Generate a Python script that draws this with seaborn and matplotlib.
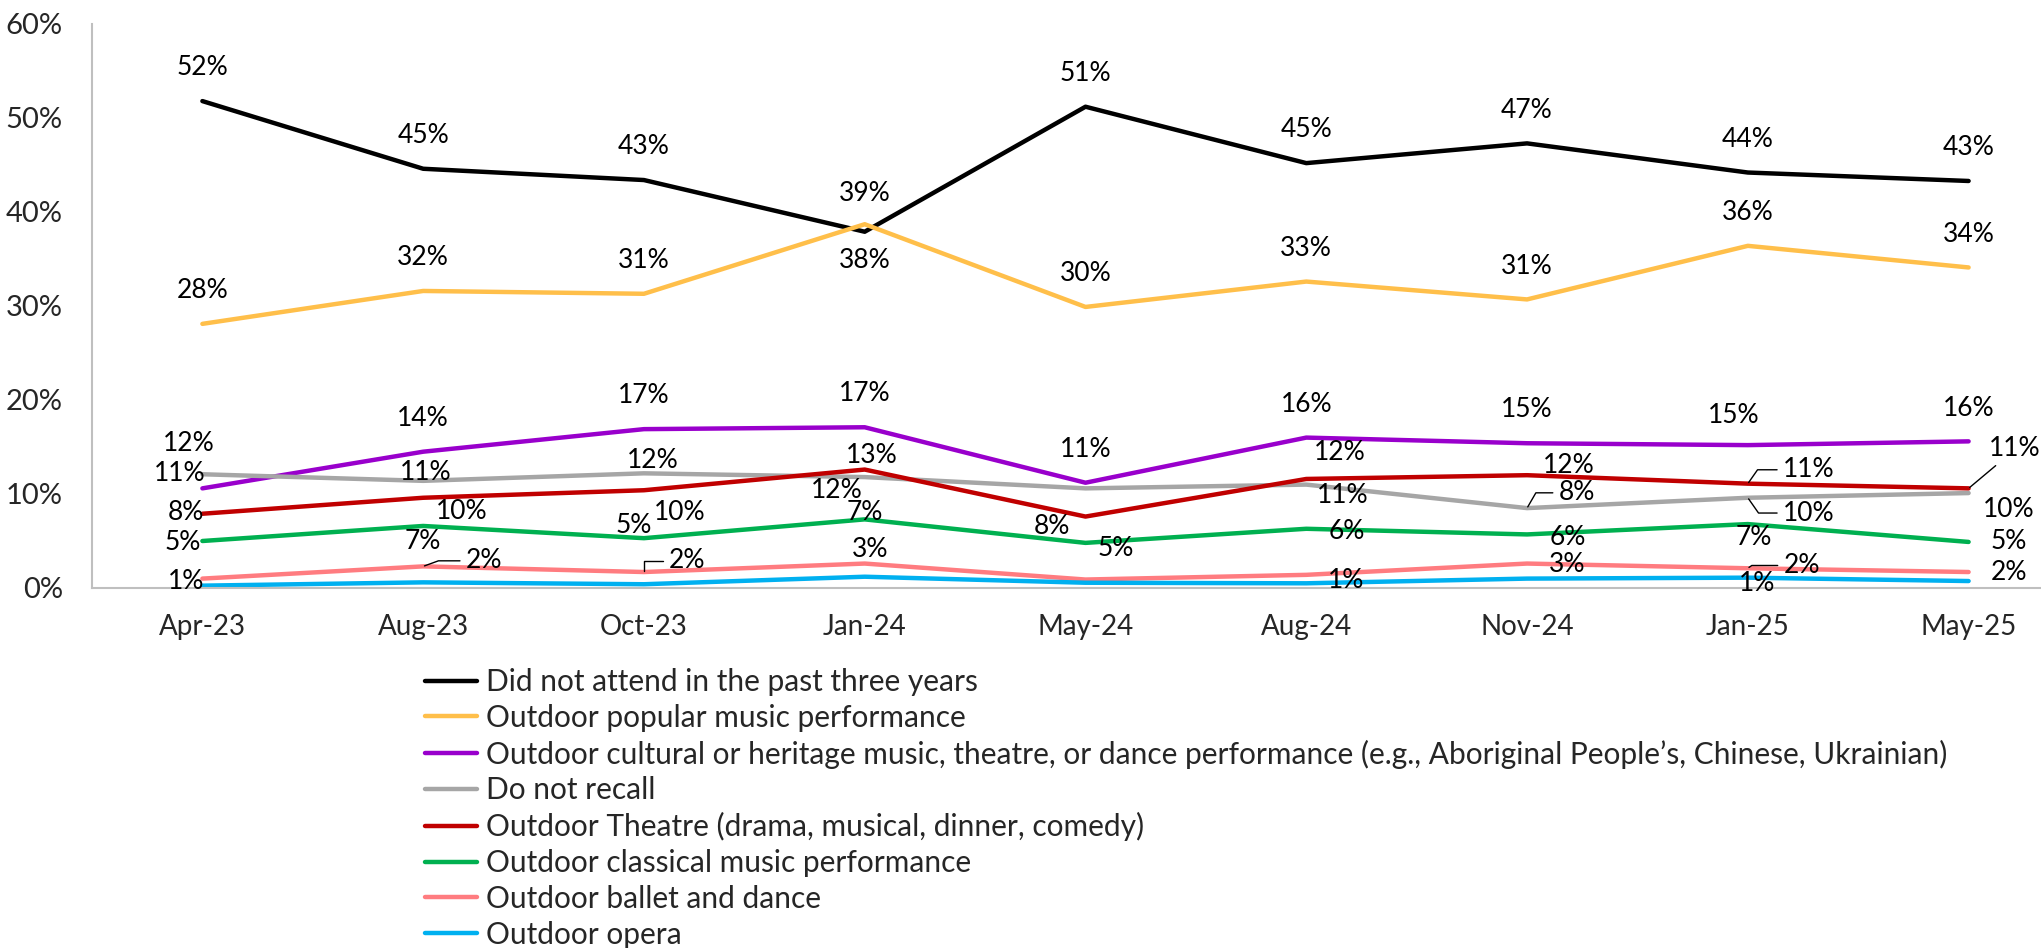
import matplotlib
matplotlib.use("Agg")
import matplotlib.pyplot as plt
import seaborn as sns
import pandas as pd

# survey waves
waves = ["Apr-23", "Aug-23", "Oct-23", "Jan-24", "May-24", "Aug-24", "Nov-24", "Jan-25", "May-25"]

# share of respondents (%) per wave
did_not_attend = [51.8, 44.6, 43.4, 37.9, 51.2, 45.2, 47.3, 44.2, 43.3]
popular_music = [28.1, 31.6, 31.3, 38.7, 29.9, 32.6, 30.7, 36.4, 34.1]
cultural_heritage = [10.6, 14.5, 16.9, 17.1, 11.2, 16.0, 15.4, 15.2, 15.6]
do_not_recall = [12.1, 11.4, 12.2, 11.8, 10.6, 11.0, 8.5, 9.6, 10.1]
theatre = [7.9, 9.6, 10.4, 12.6, 7.6, 11.6, 12.0, 11.1, 10.6]
classical_music = [5.0, 6.6, 5.3, 7.3, 4.8, 6.3, 5.7, 6.8, 4.9]
ballet_dance = [1.0, 2.3, 1.7, 2.6, 0.9, 1.4, 2.6, 2.1, 1.7]
opera = [0.25, 0.6, 0.4, 1.2, 0.56, 0.5, 1.0, 1.1, 0.74]

series_names = [
    "Did not attend in the past three years",
    "Outdoor popular music performance",
    "Outdoor cultural or heritage music, theatre, or dance performance (e.g., Aboriginal People\u2019s, Chinese, Ukrainian)",
    "Do not recall",
    "Outdoor Theatre (drama, musical, dinner, comedy)",
    "Outdoor classical music performance",
    "Outdoor ballet and dance",
    "Outdoor opera",
]
series_values = [did_not_attend, popular_music, cultural_heritage, do_not_recall,
                 theatre, classical_music, ballet_dance, opera]
colors = ["#000000", "#FFBF4A", "#9900CC", "#A6A6A6", "#C00000", "#00B050", "#FF7C80", "#00B0F0"]

# label placement: offset in points from the point, None = label hidden,
# third item = angle of a leader line
UP = (0, 24)
label_offsets = [
    [UP, UP, UP, (0, -21), UP, UP, UP, UP, UP],
    [UP, UP, UP, (0, 22), UP, UP, UP, UP, UP],
    [(-16, 11), UP, UP, UP, UP, UP, UP, (-10, 21), UP],
    [(-10, 22), (2, 6), (6, 9), (-20, -10), None, (26, -8), (36, 11, 60), (44, -11, -55), (29, -12)],
    [(-12, 1), (28, -10), (26, -16), (5, 10), (-24, -7), (24, 19), (30, 7), (44, 10, 55), (33, 29, 40)],
    [(-14, -1), (0, -11), (-7, 9), (0, 5), (22, -4), (29, -2), (29, -2), (4, -10), (29, 0)],
    [(-12, -2), (44, 4, 20), (31, 8, 90), (4, 10), None, (29, -4), (29, -1), (39, 2, 35), (29, 0)],
    [None, None, None, None, None, None, None, (7, -4), None],
]

rows = []
for name, vals in zip(series_names, series_values):
    for i, (w, v) in enumerate(zip(waves, vals)):
        rows.append({"wave": w, "idx": i, "value": v, "series": name})
df = pd.DataFrame(rows)

sns.set_theme(style="white")
plt.rcParams["font.family"] = ["Lato", "DejaVu Sans"]

fig = plt.figure(figsize=(20.41, 9.48), dpi=100)
ax = fig.add_axes([92 / 2041, 1 - 588 / 948, (2079 - 92) / 2041, (588 - 24) / 948])

sns.lineplot(data=df, x="idx", y="value", hue="series", hue_order=series_names,
             palette=colors, linewidth=3.2, ax=ax, legend=True, sort=False)

for name, vals, offs in zip(series_names, series_values, label_offsets):
    for i, (v, off) in enumerate(zip(vals, offs)):
        if off is None:
            continue
        txt = f"{round(v):.0f}%"
        if len(off) == 3:
            ax.annotate(txt, xy=(i, v), xytext=(off[0], off[1]), textcoords="offset points",
                        ha="center", va="center", fontsize=19, color="black",
                        arrowprops=dict(arrowstyle="-", color="black", lw=1,
                                        relpos=(0, 0.5), shrinkA=2, shrinkB=1,
                                        connectionstyle=f"angle,angleA=0,angleB={off[2]},rad=0"))
        else:
            ax.annotate(txt, xy=(i, v), xytext=off, textcoords="offset points",
                        ha="center", va="center", fontsize=19, color="black")

ax.set_xlim(-0.5, 8.5)
ax.set_ylim(0, 60)
ax.set_xticks(range(len(waves)))
ax.set_xticklabels(waves)
ax.set_yticks(range(0, 61, 10))
ax.set_yticklabels([f"{t}%" for t in range(0, 61, 10)])
ax.tick_params(axis="x", length=0, pad=19, labelsize=20)
ax.tick_params(axis="y", length=0, pad=21, labelsize=21)
ax.set_xlabel("")
ax.set_ylabel("")
ax.grid(False)
for s in ["top", "right"]:
    ax.spines[s].set_visible(False)
for s in ["left", "bottom"]:
    ax.spines[s].set_color("#BFBFBF")
    ax.spines[s].set_linewidth(1.5)

handles, labels = ax.get_legend_handles_labels()
ax.get_legend().remove()
fig.legend(handles, labels, loc="upper left", bbox_to_anchor=(425 / 2041, 1 - 668 / 948),
           frameon=False, fontsize=21.5, handlelength=1.75, handletextpad=0.3,
           borderpad=0, borderaxespad=0, labelspacing=0.26)

fig.savefig("out.png", dpi=100)
